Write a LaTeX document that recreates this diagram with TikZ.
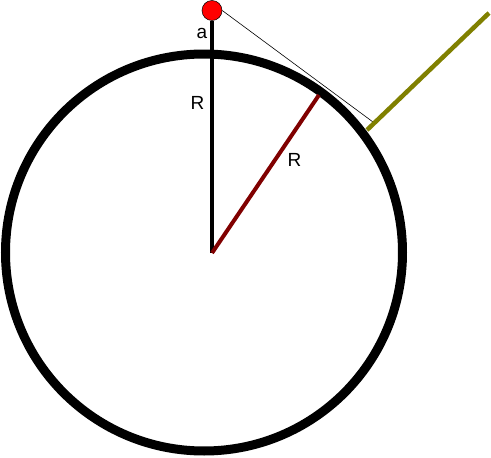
\documentclass[tikz,border=0pt]{standalone}
\usepackage{fontspec}
\setmainfont{Liberation Sans}
\definecolor{brownred}{RGB}{128,0,0}
\definecolor{olivey}{RGB}{128,128,0}
\begin{document}
\begin{tikzpicture}[x=1pt,y=-1pt,
  lbl/.style={font=\fontsize{19}{22}\selectfont, inner sep=0pt}]
\useasboundingbox (0,0) rectangle (491,458);
\coordinate (C) at (204,252.5);
\coordinate (O) at (212,253);
\coordinate (B) at (319,95);
\coordinate (T) at (373,122);
\coordinate (P) at (367,130);
\coordinate (E) at (489,13);
\draw[line width=9pt] (C) circle (198.5pt);
\node[circle, fill=red, draw=black, line width=0.5pt, minimum size=20pt, inner sep=0pt] (dot) at (212,10.5) {};
\draw[line width=4pt] (O) -- (dot.south);
\draw[brownred, line width=4pt] (O) -- (B);
\draw[line width=0.6pt] (dot.east) -- (T);
\draw[olivey, line width=4.5pt] (P) -- (E);
\node[lbl] (la) at (202,33) {a};
\node[lbl] (lr1) at (197.5,103) {R};
\node[lbl] (lr2) at (294.5,160) {R};
\end{tikzpicture}
\end{document}
